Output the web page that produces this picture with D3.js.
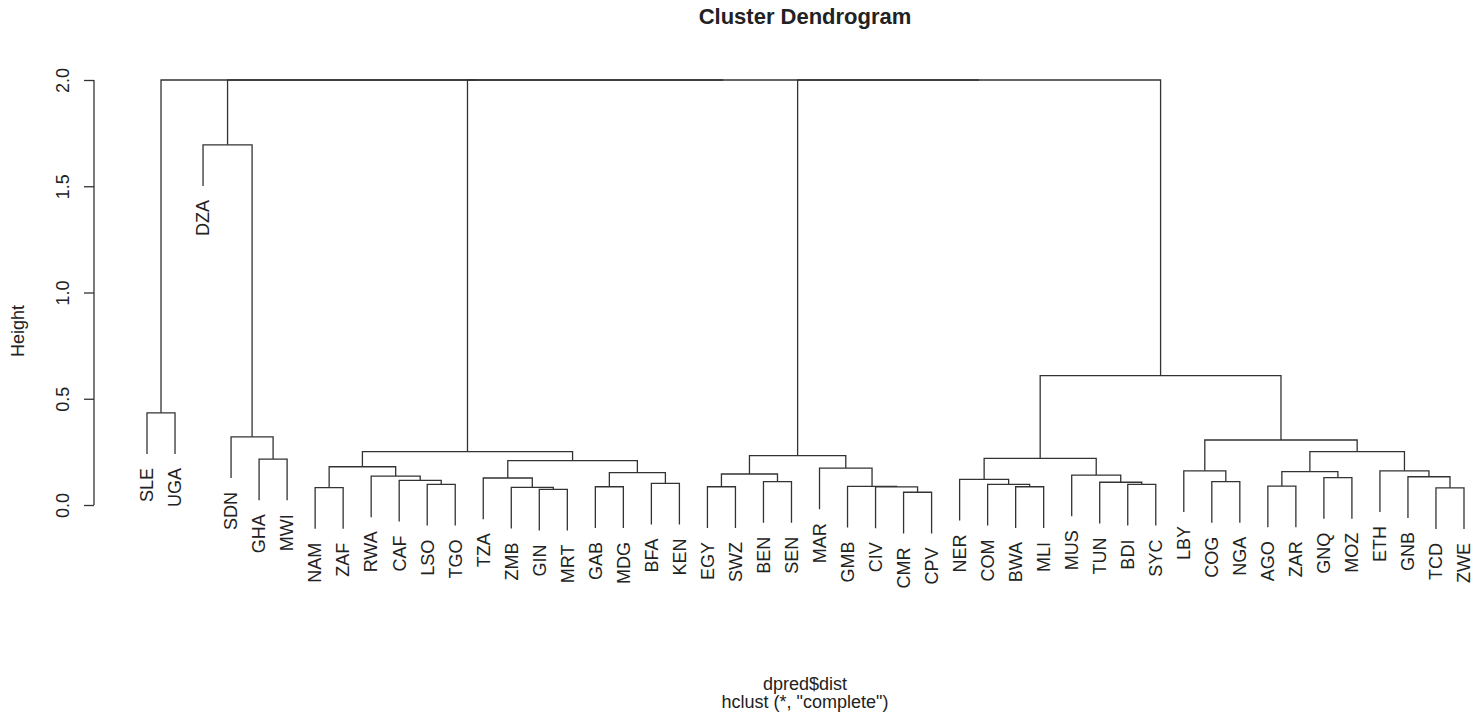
<!DOCTYPE html>
<html>
<head>
<meta charset="utf-8">
<script src="https://cdn.jsdelivr.net/npm/d3@7"></script>
<style>
  body { margin: 0; background: #fff; }
  text { font-family: "Liberation Sans", Arial, sans-serif; fill: #222; }
  .link { fill: none; stroke: #333; stroke-width: 1.3; }
</style>
</head>
<body>
<svg id="chart"></svg>
<script>
var viewWidth = 1479;
var viewHeight = 719;

// leaf order as drawn (left to right)
var labels = ["SLE", "UGA", "DZA", "SDN", "GHA", "MWI", "NAM", "ZAF", "RWA", "CAF",
  "LSO", "TGO", "TZA", "ZMB", "GIN", "MRT", "GAB", "MDG", "BFA", "KEN",
  "EGY", "SWZ", "BEN", "SEN", "MAR", "GMB", "CIV", "CMR", "CPV", "NER",
  "COM", "BWA", "MLI", "MUS", "TUN", "BDI", "SYC", "LBY", "COG", "NGA",
  "AGO", "ZAR", "GNQ", "MOZ", "ETH", "GNB", "TCD", "ZWE"];

// merge steps, like hclust$merge: a string is a leaf, a number is an earlier step (1-based)
var merges = [
  ["GIN", "MRT"], ["CMR", "CPV"], ["TCD", "ZWE"], ["NAM", "ZAF"], ["ZMB", 1],
  ["CIV", 2], ["BWA", "MLI"], ["GAB", "MDG"], ["EGY", "SWZ"], ["GMB", 6],
  ["AGO", "ZAR"], ["LSO", "TGO"], ["COM", 7], ["BDI", "SYC"], ["BFA", "KEN"],
  ["TUN", 14], ["BEN", "SEN"], ["COG", "NGA"], ["CAF", 12], ["NER", 13],
  ["TZA", 5], ["GNQ", "MOZ"], ["GNB", 3], ["RWA", 19], ["MUS", 16],
  [9, 17], [8, 15], [11, 22], ["LBY", 18], ["ETH", 23],
  ["MAR", 10], [4, 24], [21, 27], ["GHA", "MWI"], [20, 25],
  [26, 31], [28, 30], [32, 33], [29, 37], ["SDN", 34],
  ["SLE", "UGA"], [35, 39], ["DZA", 40], [36, 42], [38, 44],
  [43, 45], [41, 46]
];

// merge heights, one per step
var heights = [
  0.074, 0.060, 0.081, 0.082, 0.083,
  0.085, 0.086, 0.086, 0.086, 0.088,
  0.089, 0.097, 0.097, 0.097, 0.102,
  0.107, 0.110, 0.110, 0.116, 0.121,
  0.127, 0.129, 0.133, 0.136, 0.141,
  0.146, 0.152, 0.157, 0.161, 0.161,
  0.174, 0.180, 0.209, 0.216, 0.219,
  0.232, 0.251, 0.251, 0.306, 0.321,
  0.434, 0.609, 1.695, 2.0, 2.0,
  2.0, 2.0
];

var yTicks = [0, 0.5, 1, 1.5, 2];

var svg = d3.select("#chart")
  .attr("width", viewWidth)
  .attr("height", viewHeight);

var x = d3.scaleLinear()
  .domain([1, labels.length])
  .range([147, 1464]);

var y = d3.scaleLinear()
  .domain([0, 2])
  .range([505, 80]);

var hang = 0.1 * (d3.max(heights) - d3.min(heights));

// x position of a child: leaf index or midpoint of an earlier step
var stepX = [];
function childX(c) {
  if (typeof c === "string") return labels.indexOf(c) + 1;
  return stepX[c - 1];
}

merges.forEach(function (m, i) {
  stepX[i] = (childX(m[0]) + childX(m[1])) / 2;
});

function childTop(c, h) {
  if (typeof c === "string") return h - hang;
  return heights[c - 1];
}

var g = svg.append("g");

g.selectAll(".link")
  .data(merges)
  .enter().append("path")
  .attr("class", "link")
  .attr("d", function (m, i) {
    var h = heights[i];
    return "M" + x(childX(m[0])) + "," + y(childTop(m[0], h)) +
      "V" + y(h) +
      "H" + x(childX(m[1])) +
      "V" + y(childTop(m[1], h));
  });

// leaf labels: find each leaf's parent height
var leafBottom = {};
merges.forEach(function (m, i) {
  m.forEach(function (c) {
    if (typeof c === "string") leafBottom[c] = heights[i] - hang;
  });
});

g.selectAll(".leaf")
  .data(labels)
  .enter().append("text")
  .attr("class", "leaf")
  .attr("font-size", 18)
  .attr("text-anchor", "end")
  .attr("dy", "0.35em")
  .attr("transform", function (d, i) {
    return "translate(" + x(i + 1) + "," + (y(leafBottom[d]) + 14) + ") rotate(-90)";
  })
  .text(function (d) { return d; });

// y axis
var yAxis = d3.axisLeft(y)
  .tickValues(yTicks)
  .tickSize(10)
  .tickFormat(d3.format(".1f"));

var ax = svg.append("g")
  .attr("transform", "translate(94,0)")
  .call(yAxis);

ax.select(".domain").attr("stroke", "#333").attr("stroke-width", 1.3)
  .attr("d", "M0," + y(0) + "V" + y(2));
ax.selectAll(".tick line").attr("stroke", "#333").attr("stroke-width", 1.3);
ax.selectAll(".tick text")
  .attr("font-size", 18)
  .attr("font-family", "Liberation Sans, Arial, sans-serif")
  .attr("fill", "#222")
  .attr("x", 0)
  .attr("dy", "0.35em")
  .attr("text-anchor", "middle")
  .attr("transform", "translate(-31,0) rotate(-90)");

svg.append("text")
  .attr("font-size", 18)
  .attr("text-anchor", "middle")
  .attr("dy", "0.35em")
  .attr("transform", "translate(18,331) rotate(-90)")
  .text("Height");

svg.append("text")
  .attr("x", 805)
  .attr("y", 24)
  .attr("font-size", 22)
  .attr("font-weight", "bold")
  .attr("text-anchor", "middle")
  .text("Cluster Dendrogram");

svg.append("text")
  .attr("x", 805)
  .attr("y", 690)
  .attr("font-size", 18)
  .attr("text-anchor", "middle")
  .text("dpred$dist");

svg.append("text")
  .attr("x", 805)
  .attr("y", 708)
  .attr("font-size", 18)
  .attr("text-anchor", "middle")
  .text("hclust (*, \"complete\")");
</script>
</body>
</html>
